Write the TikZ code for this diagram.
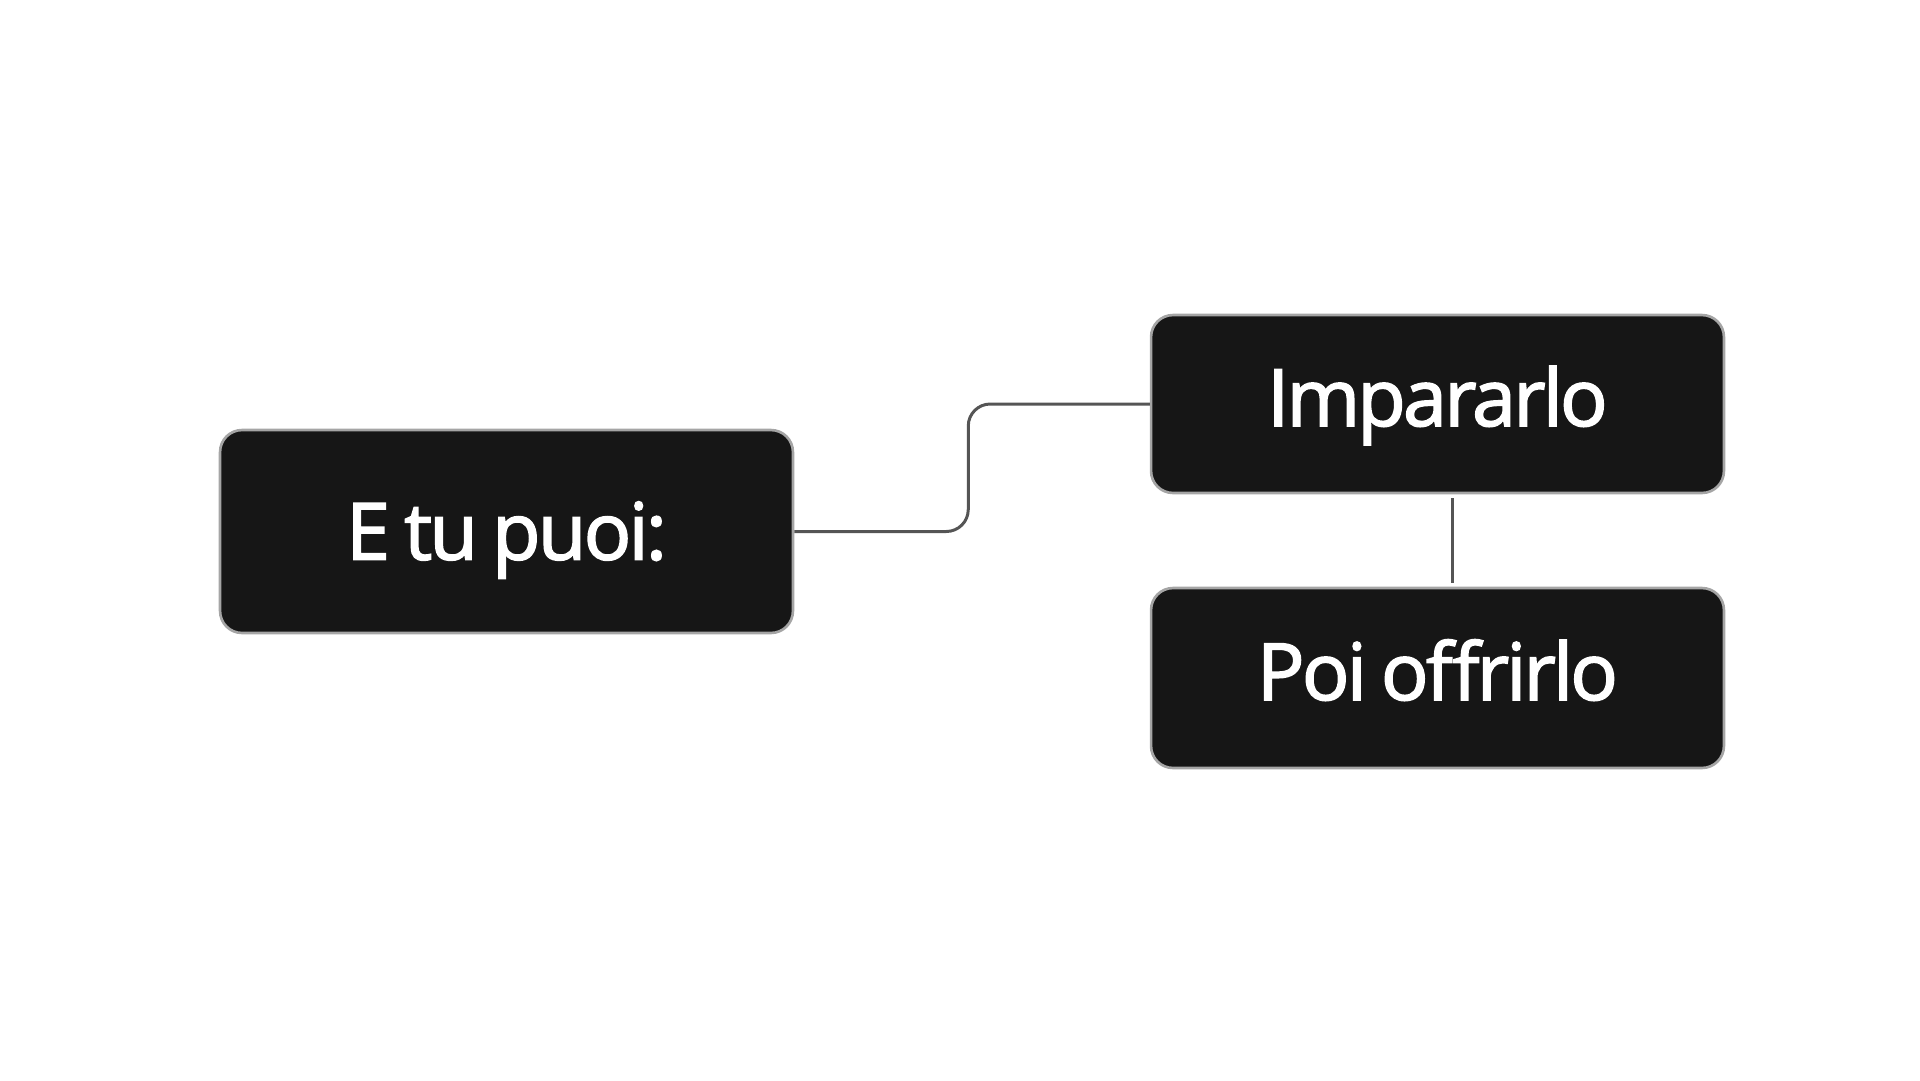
\documentclass[tikz,border=0pt]{standalone}
\usepackage{fontspec}
\setmainfont{Open Sans}[FakeBold=2, LetterSpace=-3.5, WordSpace=0.8]
\usetikzlibrary{positioning}
\definecolor{boxfill}{RGB}{22,22,22}
\definecolor{boxrim}{RGB}{165,165,165}
\definecolor{wire}{RGB}{85,85,85}

\begin{document}
\begin{tikzpicture}[
  x=0.02cm, y=-0.02cm,
  card/.style={draw=boxrim, fill=boxfill, rounded corners=0.44cm,
               line width=1.5pt, minimum width=11.46cm, align=center,
               text=white, text height=32pt, text depth=0pt,
               font=\fontsize{45}{52}\selectfont},
  link/.style={draw=wire, line width=1.7pt},
]

\useasboundingbox (0,0) rectangle (1920,1080);

% ---- root ----
\node[card, minimum height=4.06cm] (root) at (506.5,531.5) {E tu puoi:};

% ---- steps ----
\node[card, minimum height=3.56cm, text depth=7pt] (learn) at (1437.5,404) {Impararlo};
\node[card, minimum height=3.60cm, text depth=7pt] (offer) at (1437.5,678) {Poi offrirlo};

% ---- connectors ----
\draw[link, rounded corners=0.44cm] (root.east) -- ++(174,0) |- (learn.west);
\draw[link] ([xshift=0.29cm, yshift=-0.08cm]learn.south)
         -- ([xshift=0.29cm, yshift=0.08cm]offer.north);

\end{tikzpicture}
\end{document}
